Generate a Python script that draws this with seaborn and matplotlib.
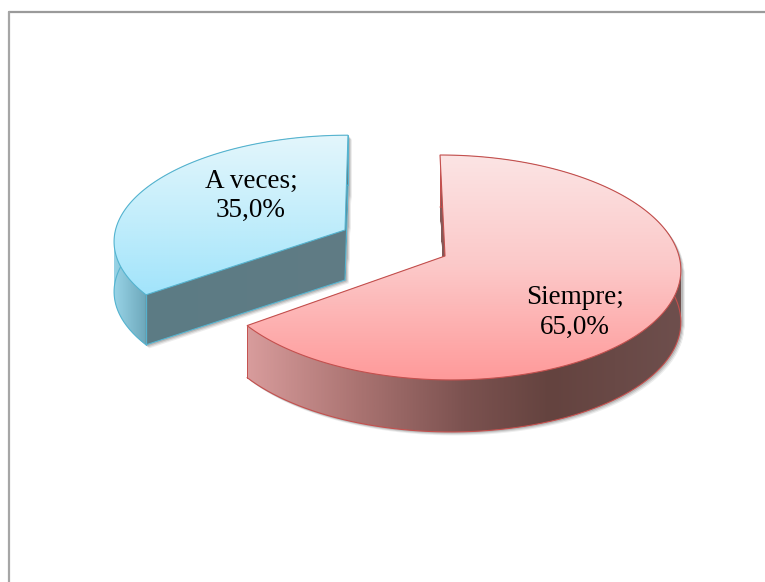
import numpy as np
import matplotlib
matplotlib.use("Agg")
import matplotlib.pyplot as plt
import seaborn as sns
from matplotlib.colors import LinearSegmentedColormap
from matplotlib.patches import PathPatch
from matplotlib.path import Path
from matplotlib.transforms import Transform, Affine2D
from matplotlib.lines import Line2D

categories = ["Siempre", "A veces"]
values = [65.0, 35.0]

sns.set_theme(style="white")
plt.rcParams["font.family"] = ["Liberation Serif", "DejaVu Sans"]
palette = sns.color_palette(["#ff9a9a", "#a2e4fb"])


class SliceProjection(Transform):
    """Perspective view of the unit pie, as an exploded tilted slice."""
    input_dims = output_dims = 2
    is_separable = False

    def __init__(self, cx, cy, rx, ry, p, s):
        super().__init__()
        self.cx, self.cy, self.rx, self.ry, self.p, self.s = cx, cy, rx, ry, p, s

    def transform_non_affine(self, xy):
        xy = np.asarray(xy, float)
        u, v = xy[:, 0], xy[:, 1]
        den = 1 + self.p * v
        return np.column_stack([self.cx + (self.rx * u + self.s * v) / den,
                                self.cy - self.ry * v / den])


styles = [
    dict(proj=SliceProjection(445, 256, 234, 111.3, 0.102, -5.5), depth=52,
         edge="#c4504e", label_xy=(575, 312.5), cut_edge=False,
         top=["#fbe4e4", "#fcc8c8", "#ff9a9a"],
         side=[(0.0, "#d89c9c"), (0.25, "#ab7472"), (0.5, "#7c5250"),
               (0.7, "#64433f"), (1.0, "#6e4f4d")]),
    dict(proj=SliceProjection(345, 230, 229.5, 104, 0.097, 3.3), depth=50,
         edge="#55b4d0", label_xy=(251, 196), cut_edge=True,
         top=["#e3f6fc", "#c4eefb", "#a2e4fb"],
         side=[(0.0, "#97d3e6"), (0.13, "#6fa9bc"), (0.142, "#5c7b84"),
               (1.0, "#607c85")]),
]

fig = plt.figure(figsize=(7.65, 5.82), dpi=100, facecolor="white")
ax = fig.add_axes([0, 0, 1, 1])
wedges, _ = ax.pie(values, colors=palette, startangle=90, counterclock=False,
                   radius=1)


def gradient(box, colors, horizontal, clip_path, z):
    x0, y0, x1, y1 = box
    ramp = np.linspace(0, 1, 400)
    data = ramp[None, :] if horizontal else ramp[:, None]
    cmap = LinearSegmentedColormap.from_list("g", colors)
    im = ax.imshow(data, extent=(x0, x1, y1, y0), origin="upper", cmap=cmap,
                   vmin=0, vmax=1, aspect="auto", zorder=z,
                   interpolation="bilinear")
    im.set_clip_path(clip_path, ax.transData)
    return im


for wedge, st, cat, val in zip(wedges, styles, categories, values):
    proj = st["proj"]
    ang = np.radians(np.linspace(wedge.theta1, wedge.theta2, 240))
    arc = proj.transform(np.column_stack([np.cos(ang), np.sin(ang)]))
    apex = proj.transform(np.array([[0.0, 0.0]]))
    poly = Path(np.vstack([apex, arc, apex]), closed=True)
    verts = poly.vertices
    bbox = (verts[:, 0].min(), verts[:, 1].min(),
            verts[:, 0].max(), verts[:, 1].max())
    depth = st["depth"]

    # extruded body: the outline swept downwards
    sweep = Path.make_compound_path(
        *[poly.transformed(Affine2D().translate(0, d))
          for d in np.arange(0, depth + 0.5, 1.0)])

    # soft shadow behind the body
    for dx, dy, a in [(3.5, 3.5, 0.10), (2.5, 2.5, 0.16), (1.5, 1.5, 0.22)]:
        ax.add_patch(PathPatch(sweep.transformed(Affine2D().translate(dx, dy)),
                               fc="#555555", ec="none", alpha=a, zorder=1))

    # side walls
    gradient((bbox[0], bbox[1], bbox[2], bbox[3] + depth), st["side"], True,
             sweep, 2)
    ax.add_line(Line2D(arc[:, 0], arc[:, 1] + depth, color=st["edge"], lw=0.8,
                       zorder=3))
    if st["cut_edge"]:
        for end in (arc[0], arc[-1]):
            ax.add_line(Line2D([end[0], apex[0, 0]],
                               [end[1] + depth, apex[0, 1] + depth],
                               color=st["edge"], lw=0.8, zorder=3))

    # vertical edges at the outer rim ends of the cut faces
    for end in (arc[0], arc[-1]):
        ax.add_line(Line2D([end[0], end[0]], [end[1], end[1] + depth],
                           color=st["edge"], lw=0.7, zorder=3))

    # top face: the pie wedge itself, projected, with a vertical gradient
    gradient(bbox, st["top"], False, poly, 4)
    wedge.set_transform(proj + ax.transData)
    wedge.set_facecolor("none")
    wedge.set_edgecolor("none")
    wedge.set_zorder(5)
    wedge.set_clip_on(False)
    ax.add_patch(PathPatch(poly, fc="none", ec=st["edge"], lw=0.8, zorder=5))

    label = f"{cat};\n{val:.1f}%".replace(".", ",")
    ax.text(*st["label_xy"], label, ha="center", va="center", fontsize=19.5,
            color="black", linespacing=1.22, zorder=6)

ax.set_xlim(0, 765)
ax.set_ylim(582, 0)
ax.set_aspect("auto")
ax.axis("off")

# chart-area frame (top and left edges only are in view)
ax.add_line(Line2D([9, 765], [12, 12], color="#9a9a9a", lw=1.6, zorder=0))
ax.add_line(Line2D([9.5, 9.5], [12, 582], color="#a6a6a6", lw=1.6, zorder=0))

fig.savefig("out.png", dpi=100, facecolor="white")
